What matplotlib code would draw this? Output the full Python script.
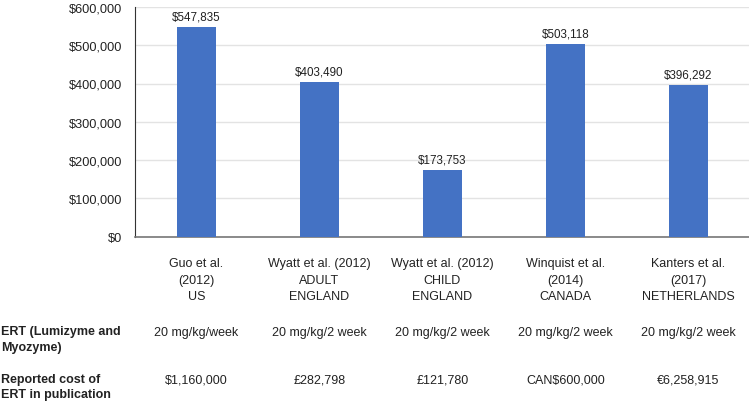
import matplotlib.pyplot as plt
from matplotlib.ticker import FuncFormatter

plt.rcParams['font.family'] = ['Liberation Sans', 'DejaVu Sans']

# Data
studies = ['Guo et al.\n(2012)\nUS', 'Wyatt et al. (2012)\nADULT\nENGLAND',
           'Wyatt et al. (2012)\nCHILD\nENGLAND', 'Winquist et al.\n(2014)\nCANADA',
           'Kanters et al.\n(2017)\nNETHERLANDS']
costs = [547835, 403490, 173753, 503118, 396292]
dosing = ['20 mg/kg/week', '20 mg/kg/2 week', '20 mg/kg/2 week',
          '20 mg/kg/2 week', '20 mg/kg/2 week']
reported = ['$1,160,000', '£282,798', '£121,780', 'CAN$600,000', '€6,258,915']
row_labels = ['ERT (Lumizyme and\nMyozyme)', 'Reported cost of\nERT in publication']

W, H = 749, 402
fig = plt.figure(figsize=(W / 100, H / 100), dpi=100)
ax = fig.add_axes([135 / W, 1 - 237.5 / H, 615 / W, 229.5 / H])

x = range(len(costs))
ax.bar(x, costs, width=0.32, color='#4472c4', zorder=3)
for i, v in enumerate(costs):
    ax.text(i, v + 12000, '${:,}'.format(v), ha='center', va='bottom',
            fontsize=8.4, color='#222222')

ax.set_xlim(-0.5, 4.5)
ax.set_ylim(0, 600000)
ax.set_yticks(range(0, 600001, 100000))
ax.yaxis.set_major_formatter(FuncFormatter(lambda v, p: '${:,.0f}'.format(v)))
ax.tick_params(axis='y', labelsize=9.2, length=0, pad=9, colors='#222222')
ax.set_xticks([])
ax.grid(axis='y', color='#e3e3e3', linewidth=1, zorder=0)
for s in ['top', 'right']:
    ax.spines[s].set_visible(False)
ax.spines['left'].set_color('#333333')
ax.spines['bottom'].set_color('#777777')
ax.spines['bottom'].set_linewidth(1.2)

# table under the chart
def fx(i):
    return (135 + 61.5 + 123 * i) / W

for i in x:
    fig.text(fx(i), 1 - 281 / H, studies[i], ha='center', va='center',
             fontsize=9, linespacing=1.5, color='#222222')
    fig.text(fx(i), 1 - 333 / H, dosing[i], ha='center', va='center',
             fontsize=9, color='#222222')
    fig.text(fx(i), 1 - 381 / H, reported[i], ha='center', va='center',
             fontsize=9, color='#222222')

fig.text(1 / W, 1 - 340 / H, row_labels[0], ha='left', va='center',
         fontsize=9, fontweight='bold', linespacing=1.35, color='#222222')
fig.text(1 / W, 1 - 387.5 / H, row_labels[1], ha='left', va='center',
         fontsize=9, fontweight='bold', linespacing=1.35, color='#222222')

fig.savefig('out.png', dpi=100)
